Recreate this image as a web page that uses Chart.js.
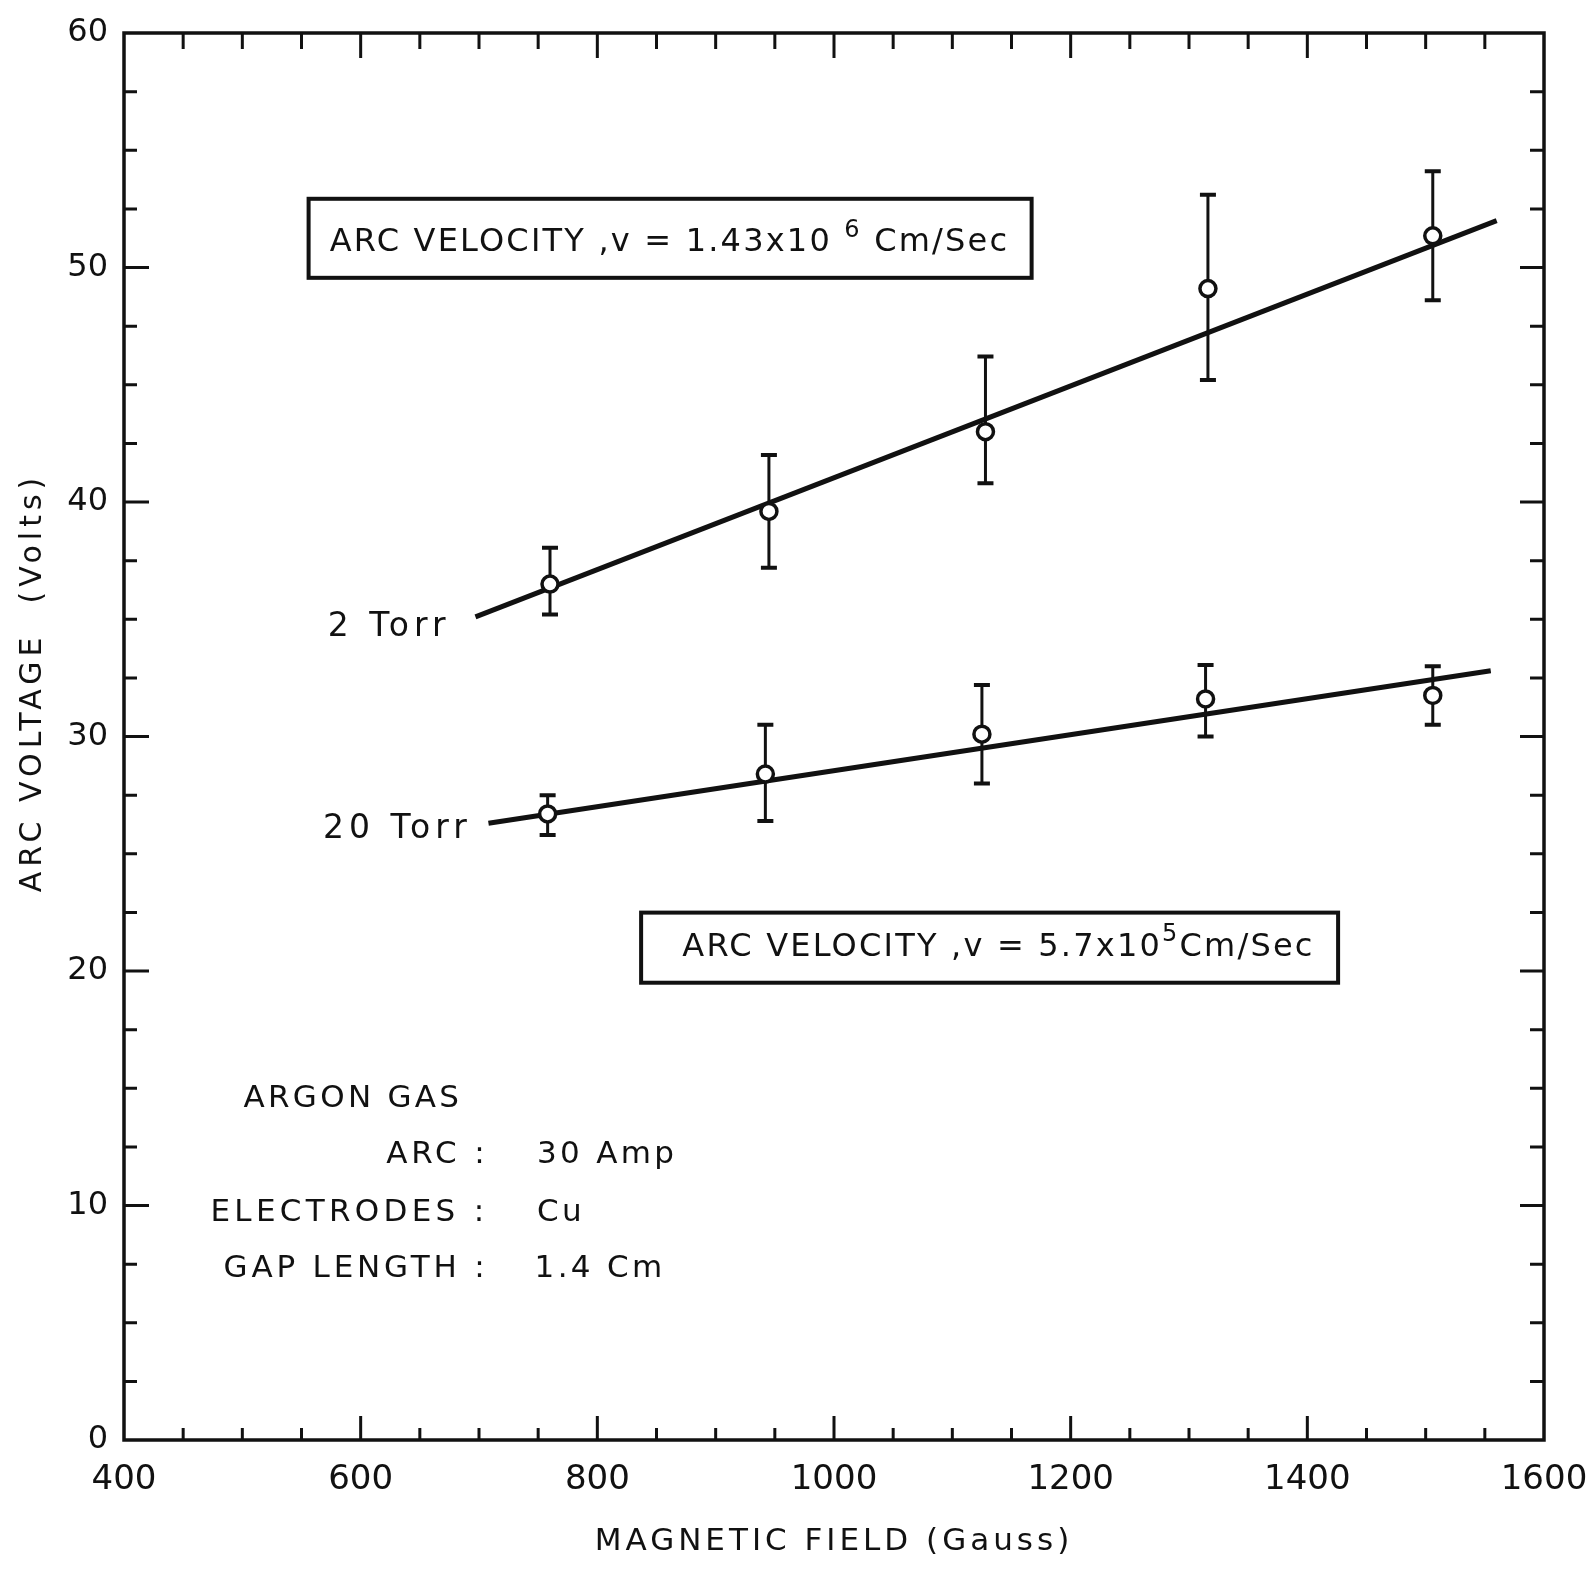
<!DOCTYPE html>
<html>
<head>
<meta charset="utf-8">
<script src="https://cdn.jsdelivr.net/npm/chart.js@4.4.1/dist/chart.umd.min.js"></script>
<style>
  html, body { margin: 0; padding: 0; background: #fff; }
</style>
</head>
<body>
<canvas id="myChart" width="1590" height="1579"></canvas>
<script>
// data (Gauss, Volts)
const field2 = [760, 945, 1128, 1316, 1506];
const volt2 = [36.5, 39.6, 43.0, 49.1, 51.35];
const err2Low = [35.2, 37.2, 40.8, 45.2, 48.6];
const err2High = [38.05, 42.0, 46.2, 53.1, 54.1];

const field20 = [758, 942, 1125, 1314, 1506];
const volt20 = [26.7, 28.4, 30.1, 31.6, 31.75];
const err20Low = [25.8, 26.4, 28.0, 30.0, 30.5];
const err20High = [27.5, 30.5, 32.2, 33.05, 33.0];

// fitted lines
const fit2Field = [697, 1560];
const fit2Volt = [35.1, 52.0];
const fit20Field = [708, 1555];
const fit20Volt = [26.3, 32.8];

const xTicks = [400, 600, 800, 1000, 1200, 1400, 1600];
const yTicks = [0, 10, 20, 30, 40, 50, 60];
const xMinorStep = 50;
const yMinorStep = 2.5;

const INK = '#111';
const FONT = '"DejaVu Sans", sans-serif';

function toPoints(xs, ys) {
    return xs.map((x, i) => ({x: x, y: ys[i]}));
}

// ticks inside the frame, on all four sides
const frameTicks = {
    id: 'frameTicks',
    afterDraw(chart) {
        const {ctx, chartArea: a, scales: {x, y}} = chart;
        ctx.save();
        ctx.strokeStyle = INK;
        ctx.lineCap = 'butt';
        ctx.lineWidth = 3.5;
        ctx.strokeRect(a.left, a.top, a.right - a.left, a.bottom - a.top);
        ctx.lineWidth = 3;
        ctx.beginPath();
        for (let v = x.min + xMinorStep; v < x.max; v += xMinorStep) {
            const px = x.getPixelForValue(v);
            const major = xTicks.includes(v);
            ctx.moveTo(px, a.bottom); ctx.lineTo(px, a.bottom - (major ? 24 : 12));
            ctx.moveTo(px, a.top); ctx.lineTo(px, a.top + (major ? 25 : 16));
        }
        for (let v = y.min + yMinorStep; v < y.max; v += yMinorStep) {
            const py = y.getPixelForValue(v);
            const major = yTicks.includes(v);
            ctx.moveTo(a.left, py); ctx.lineTo(a.left + (major ? 25 : 13), py);
            ctx.moveTo(a.right, py); ctx.lineTo(a.right - (major ? 24 : 14), py);
        }
        ctx.stroke();
        ctx.restore();
    }
};

// vertical error bars, drawn under the circles
const errorBars = {
    id: 'errorBars',
    beforeDatasetsDraw(chart) {
        const {ctx, scales: {x, y}} = chart;
        const sets = [[field2, err2Low, err2High], [field20, err20Low, err20High]];
        ctx.save();
        ctx.strokeStyle = INK;
        sets.forEach(([fx, lo, hi]) => {
            fx.forEach((f, i) => {
                const px = x.getPixelForValue(f);
                const y1 = y.getPixelForValue(lo[i]);
                const y2 = y.getPixelForValue(hi[i]);
                ctx.lineWidth = 3;
                ctx.beginPath();
                ctx.moveTo(px, y1); ctx.lineTo(px, y2);
                ctx.stroke();
                ctx.lineWidth = 4;
                ctx.beginPath();
                ctx.moveTo(px - 8, y1); ctx.lineTo(px + 8, y1);
                ctx.moveTo(px - 8, y2); ctx.lineTo(px + 8, y2);
                ctx.stroke();
            });
        });
        ctx.restore();
    }
};

function drawRich(ctx, parts, cx, cy, size, spacing) {
    ctx.letterSpacing = spacing + 'px';
    let total = 0;
    parts.forEach(p => {
        ctx.font = (p.sup ? Math.round(size * 0.75) : size) + 'px ' + FONT;
        p.w = ctx.measureText(p.t).width;
        total += p.w;
    });
    let left = cx - total / 2;
    ctx.textAlign = 'left';
    ctx.textBaseline = 'middle';
    parts.forEach(p => {
        ctx.font = (p.sup ? Math.round(size * 0.75) : size) + 'px ' + FONT;
        ctx.fillText(p.t, left, p.sup ? cy - size * 0.4 : cy);
        left += p.w;
    });
}

// boxes and notes, placed in data units
const boxes = [
    {x0: 556, x1: 1167, y0: 52.93, y1: 49.56, cx: 861, cy: 51.04,
     parts: [{t: 'ARC VELOCITY ,v = 1.43x10 '}, {t: '6', sup: true}, {t: ' Cm/Sec'}]},
    {x0: 837, x1: 1426, y0: 22.49, y1: 19.5, cx: 1139, cy: 20.98,
     parts: [{t: 'ARC VELOCITY ,v = 5.7x10'}, {t: '5', sup: true}, {t: 'Cm/Sec'}]}
];
const notes = [
    {t: '2 Torr', x: 624, y: 34.65, align: 'center', size: 33, sp: 5},
    {t: '20 Torr', x: 631, y: 26.05, align: 'center', size: 33, sp: 5},
    {t: 'ARGON GAS', x: 501, y: 14.55, align: 'left', size: 31, sp: 3.3},
    {t: 'ARC :', x: 708, y: 12.15, align: 'right', size: 31, sp: 3.8},
    {t: '30 Amp', x: 749, y: 12.15, align: 'left', size: 31, sp: 3.3},
    {t: 'ELECTRODES :', x: 708, y: 9.7, align: 'right', size: 31, sp: 4.3},
    {t: 'Cu', x: 749, y: 9.7, align: 'left', size: 31, sp: 3.3},
    {t: 'GAP LENGTH :', x: 708, y: 7.3, align: 'right', size: 31, sp: 3.8},
    {t: '1.4 Cm', x: 747, y: 7.3, align: 'left', size: 31, sp: 3.3}
];

const annotations = {
    id: 'annotations',
    afterDraw(chart) {
        const {ctx, chartArea: a, scales: {x, y}} = chart;
        ctx.save();
        ctx.fillStyle = INK;
        ctx.strokeStyle = INK;
        boxes.forEach(b => {
            const l = x.getPixelForValue(b.x0), r = x.getPixelForValue(b.x1);
            const t = y.getPixelForValue(b.y0), btm = y.getPixelForValue(b.y1);
            ctx.lineWidth = 4;
            ctx.strokeRect(l, t, r - l, btm - t);
            drawRich(ctx, b.parts, x.getPixelForValue(b.cx), y.getPixelForValue(b.cy), 32, 2.2);
        });
        ctx.textBaseline = 'middle';
        notes.forEach(n => {
            ctx.font = n.size + 'px ' + FONT;
            ctx.letterSpacing = n.sp + 'px';
            ctx.textAlign = n.align;
            ctx.fillText(n.t, x.getPixelForValue(n.x), y.getPixelForValue(n.y));
        });
        // axis titles
        ctx.font = '31px ' + FONT;
        ctx.letterSpacing = '4px';
        ctx.textAlign = 'center';
        ctx.fillText('MAGNETIC FIELD (Gauss)', (a.left + a.right) / 2, 1542);
        ctx.translate(33, (a.top + a.bottom) / 2 - 54);
        ctx.rotate(-Math.PI / 2);
        ctx.font = '30px ' + FONT;
        ctx.letterSpacing = '5px';
        ctx.fillText('ARC VOLTAGE  (Volts)', 0, 0);
        ctx.restore();
    }
};

const ctx = document.getElementById('myChart').getContext('2d');

const myChart = new Chart(ctx, {
    type: 'scatter',
    data: {
        datasets: [
            {
                label: '2 Torr',
                data: toPoints(field2, volt2),
                pointRadius: 8,
                pointBorderWidth: 3.5,
                pointBackgroundColor: '#fff',
                pointBorderColor: INK,
                order: 1
            },
            {
                label: '20 Torr',
                data: toPoints(field20, volt20),
                pointRadius: 8,
                pointBorderWidth: 3.5,
                pointBackgroundColor: '#fff',
                pointBorderColor: INK,
                order: 1
            },
            {
                label: 'fit 2 Torr',
                data: toPoints(fit2Field, fit2Volt),
                showLine: true,
                pointRadius: 0,
                borderWidth: 5,
                borderColor: INK,
                order: 2
            },
            {
                label: 'fit 20 Torr',
                data: toPoints(fit20Field, fit20Volt),
                showLine: true,
                pointRadius: 0,
                borderWidth: 5,
                borderColor: INK,
                order: 2
            }
        ]
    },
    options: {
        responsive: false,
        animation: false,
        layout: {padding: {top: 33, right: 46, left: 0, bottom: 0}},
        plugins: {
            legend: {display: false},
            tooltip: {enabled: false}
        },
        scales: {
            x: {
                type: 'linear',
                min: 400,
                max: 1600,
                afterBuildTicks: s => { s.ticks = xTicks.map(v => ({value: v})); },
                afterFit: s => { s.height = 139; s.paddingLeft = 0; s.paddingRight = 0; },
                grid: {display: false, drawTicks: false},
                border: {display: false},
                ticks: {color: INK, padding: 20, font: {family: FONT, size: 34},
                        callback: v => String(v)}
            },
            y: {
                min: 0,
                max: 60,
                afterBuildTicks: s => { s.ticks = yTicks.map(v => ({value: v})); },
                afterFit: s => { s.width = 124; s.paddingTop = 0; s.paddingBottom = 0; },
                grid: {display: false, drawTicks: false},
                border: {display: false},
                ticks: {color: INK, padding: 16, font: {family: FONT, size: 32},
                        callback: v => String(v)}
            }
        }
    },
    plugins: [errorBars, frameTicks, annotations]
});
</script>
</body>
</html>
